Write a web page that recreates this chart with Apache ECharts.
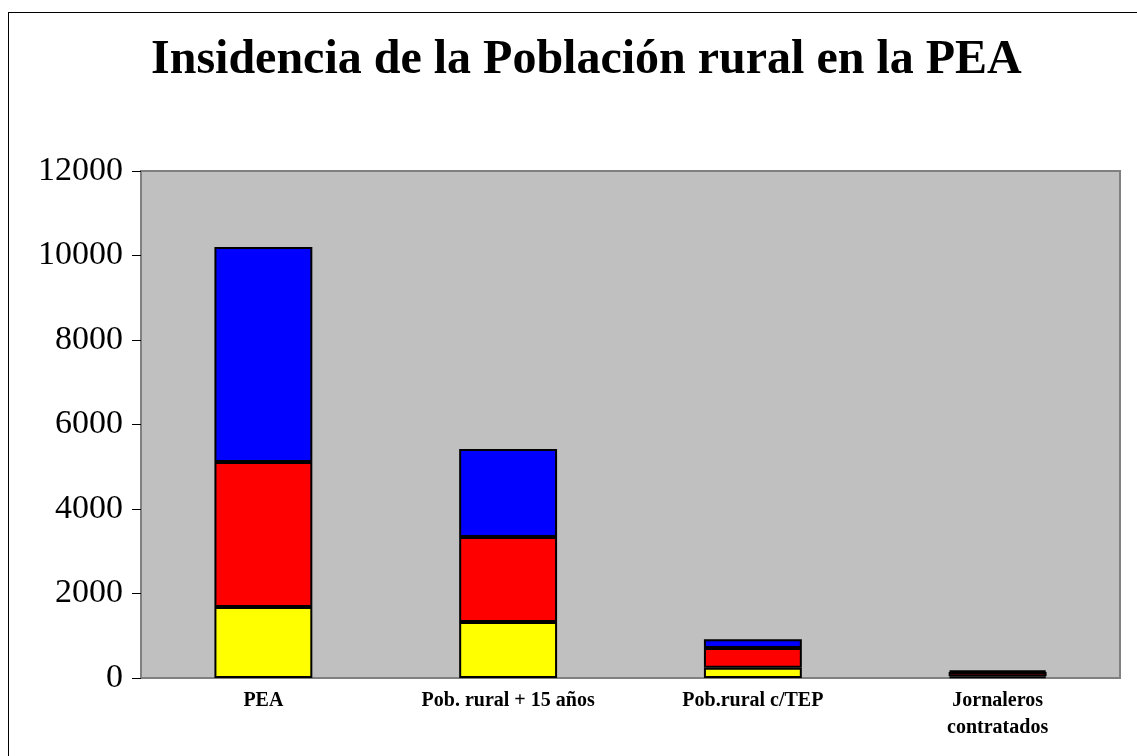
<!DOCTYPE html>
<html>
<head>
<meta charset="utf-8">
<script src="https://cdn.jsdelivr.net/npm/echarts@6/dist/echarts.min.js"></script>
<style>
  html, body { margin: 0; padding: 0; background: #fff; overflow: hidden; }
  #frame { position: absolute; left: 8px; top: 12px; width: 1200px; height: 800px; border: 1px solid #000; }
  #chart { position: absolute; left: 0; top: 0; width: 1137px; height: 756px; }
</style>
</head>
<body>
<div id="frame"></div>
<div id="chart"></div>
<script>
const categories = ['PEA', 'Pob. rural + 15 años', 'Pob.rural c/TEP', 'Jornaleros\ncontratados']
const yellowValues = [1680, 1325, 240, 40]
const redValues = [3430, 2010, 470, 100]
const blueValues = [5090, 2085, 205, 40]

const myChart = echarts.init(document.getElementById('chart'))

function barSeries(name, values, color) {
  return {
    name: name,
    type: 'bar',
    stack: 'total',
    barWidth: '40%',
    itemStyle: { color: color, borderColor: '#000', borderWidth: 2 },
    data: values
  }
}

const option = {
  animation: false,
  title: {
    text: 'Insidencia de la Población rural en la PEA',
    left: 146,
    top: 32,
    textStyle: {
      fontFamily: 'Liberation Serif',
      fontSize: 48,
      fontWeight: 'bold',
      color: '#000'
    }
  },
  grid: {
    left: 141, right: 17, top: 171, bottom: 78,
    show: true,
    backgroundColor: '#C0C0C0',
    borderColor: '#808080',
    borderWidth: 2
  },
  xAxis: {
    type: 'category',
    data: categories,
    axisLine: { lineStyle: { color: '#808080', width: 2 } },
    axisTick: { show: false },
    axisLabel: {
      margin: 9,
      fontFamily: 'Liberation Serif',
      fontSize: 20,
      fontWeight: 'bold',
      color: '#000',
      lineHeight: 27,
      interval: 0
    }
  },
  yAxis: {
    type: 'value',
    min: 0,
    max: 12000,
    interval: 2000,
    splitLine: { show: false },
    axisLine: { show: true, lineStyle: { color: '#808080', width: 2 } },
    axisTick: { show: true, length: 9, lineStyle: { color: '#000' } },
    axisLabel: {
      margin: 18,
      fontFamily: 'Liberation Serif',
      fontSize: 34,
      color: '#000',
      formatter: function (v) { return String(v) }
    }
  },
  series: [
    barSeries('Amarillo', yellowValues, '#FFFF00'),
    barSeries('Rojo', redValues, '#FF0000'),
    barSeries('Azul', blueValues, '#0000FF')
  ]
}

myChart.setOption(option)
</script>
</body>
</html>
